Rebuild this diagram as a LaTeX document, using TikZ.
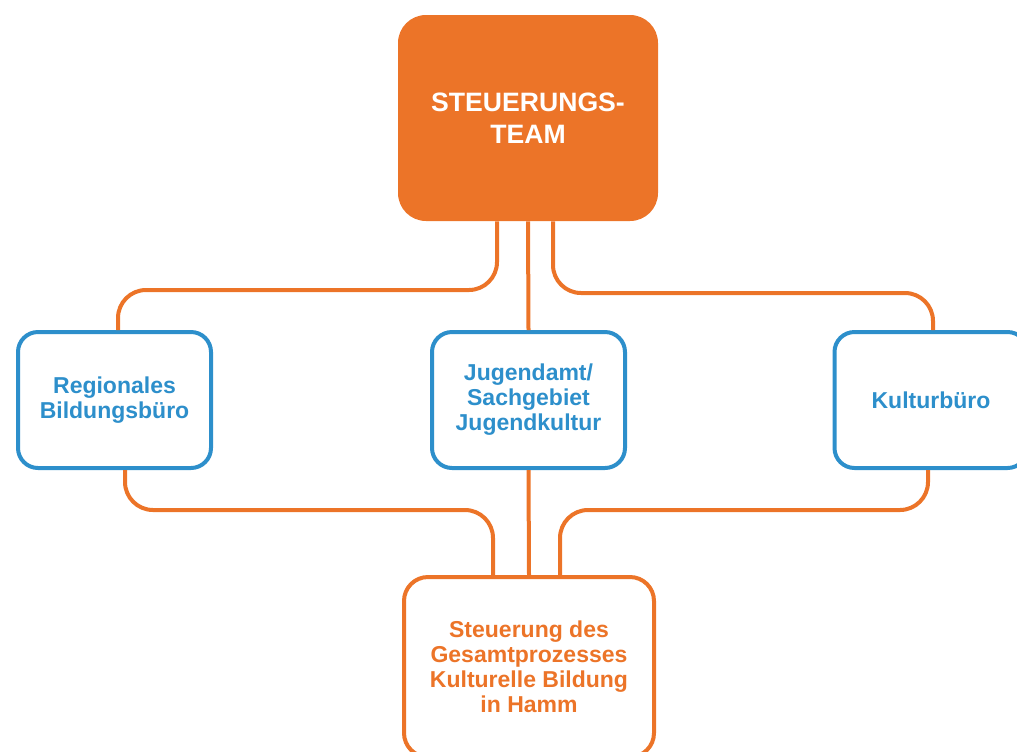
\documentclass[tikz,border=0pt]{standalone}
\usepackage{fontspec}
\setmainfont{Liberation Sans}
\usetikzlibrary{calc}

\definecolor{hammorange}{HTML}{EC7428}
\definecolor{hammblue}{HTML}{2D8FCB}

\tikzset{
  teambox/.style={fill=hammorange, rounded corners=14pt, minimum width=130pt,
    minimum height=103pt, align=center, text=white,
    font=\bfseries\fontsize{13.3}{16}\selectfont},
  unitbox/.style={draw=hammblue, fill=white, line width=2pt, rounded corners=10pt,
    minimum width=96.5pt, minimum height=68pt, align=center, text=hammblue,
    font=\bfseries\fontsize{11.5}{12.5}\selectfont},
  processbox/.style={draw=hammorange, fill=white, line width=2pt, rounded corners=12pt,
    minimum width=125pt, minimum height=90pt, align=center, text=hammorange,
    font=\bfseries\fontsize{11.5}{12.5}\selectfont},
  link/.style={draw=hammorange, line width=2pt, rounded corners=14pt}
}

\begin{document}
\begin{tikzpicture}[x=0.5pt, y=-0.5pt]
  \useasboundingbox (0,0) rectangle (1017,751);

  \node[teambox]    (team)   at (528,118)   {STEUERUNGS-\\TEAM};
  \node[unitbox]    (regio)  at (114.5,400) {Regionales\\Bildungsbüro};
  \node[unitbox]    (jugend) at (528.5,400) {Jugendamt/\\Sachgebiet\\Jugendkultur};
  \node[unitbox]    (kultur) at (931,400)   {Kulturbüro};
  \node[processbox] (gesamt) at (529,667)   {Steuerung des\\Gesamtprozesses\\Kulturelle Bildung\\in Hamm};

  \draw[link] ($(team.south)+(-31,0)$) |- ($(regio.north)+(3.5,-40)$) -- ($(regio.north)+(3.5,0)$);
  \draw[link] (team.south) -- (jugend.north);
  \draw[link] ($(team.south)+(25,0)$) |- ($(kultur.north)+(2,-37)$) -- ($(kultur.north)+(2,0)$);

  \draw[link] ($(regio.south)+(10.5,0)$) |- ($(gesamt.north)+(-36,-65)$) -- ($(gesamt.north)+(-36,0)$);
  \draw[link] (jugend.south) -- (gesamt.north);
  \draw[link] ($(kultur.south)+(-3,0)$) |- ($(gesamt.north)+(31,-65)$) -- ($(gesamt.north)+(31,0)$);
\end{tikzpicture}
\end{document}
